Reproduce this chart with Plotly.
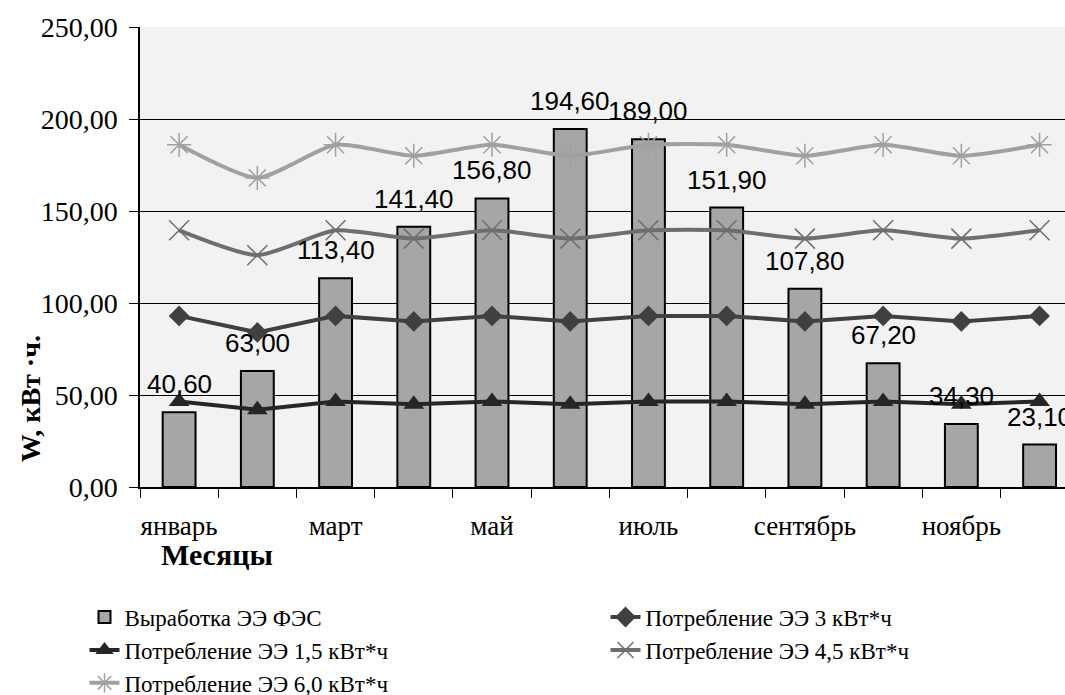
import plotly.graph_objects as go

months = ["январь", "февраль", "март", "апрель", "май", "июнь",
          "июль", "август", "сентябрь", "октябрь", "ноябрь", "декабрь"]
x_idx = list(range(len(months)))

# Выработка ЭЭ ФЭС, кВт*ч
generation = [40.60, 63.00, 113.40, 141.40, 156.80, 194.60,
              189.00, 151.90, 107.80, 67.20, 34.30, 23.10]
# Потребление при разной суточной нагрузке
cons_15 = [46.5, 42.0, 46.5, 45.0, 46.5, 45.0, 46.5, 46.5, 45.0, 46.5, 45.0, 46.5]
cons_30 = [93.0, 84.0, 93.0, 90.0, 93.0, 90.0, 93.0, 93.0, 90.0, 93.0, 90.0, 93.0]
cons_45 = [139.5, 126.0, 139.5, 135.0, 139.5, 135.0, 139.5, 139.5, 135.0, 139.5, 135.0, 139.5]
cons_60 = [186.0, 168.0, 186.0, 180.0, 186.0, 180.0, 186.0, 186.0, 180.0, 186.0, 180.0, 186.0]

label_months = [0, 2, 4, 6, 8, 10]

SERIF = "Liberation Serif, Times New Roman, serif"
SANS = "Liberation Sans, Arial, sans-serif"

fig = go.Figure()
fig.add_trace(go.Bar(
    x=x_idx, y=generation, name="Выработка ЭЭ ФЭС", width=0.42,
    marker=dict(color="#a6a6a6", line=dict(color="black", width=2)),
))
fig.add_trace(go.Scatter(
    x=x_idx, y=cons_30, name="Потребление ЭЭ 3 кВт*ч", mode="lines+markers",
    line=dict(color="#404040", width=4),
    marker=dict(symbol="diamond", size=16, color="#404040"),
))
fig.add_trace(go.Scatter(
    x=x_idx, y=cons_15, name="Потребление ЭЭ 1,5 кВт*ч", mode="lines+markers",
    line=dict(color="#262626", width=4),
    marker=dict(symbol="triangle-up", size=18, color="#262626"),
))
fig.add_trace(go.Scatter(
    x=x_idx, y=cons_45, name="Потребление ЭЭ 4,5 кВт*ч", mode="lines+markers",
    line=dict(color="#6e6e6e", width=4, shape="spline", smoothing=0.6),
    marker=dict(symbol="x-thin-open", size=20, line=dict(color="#8a8a8a", width=1.5)),
))
fig.add_trace(go.Scatter(
    x=x_idx, y=cons_60, name="Потребление ЭЭ 6,0 кВт*ч", mode="lines+markers",
    line=dict(color="#a0a0a0", width=4, shape="spline", smoothing=0.6),
    marker=dict(symbol="asterisk-open", size=20, line=dict(color="#b4b4b4", width=1.5)),
))

# подписи значений над столбцами
for i, v in enumerate(generation):
    fig.add_annotation(
        x=i, y=v, text=f"{v:.2f}".replace(".", ","), showarrow=False,
        yanchor="bottom", yshift=11, font=dict(family=SANS, size=26, color="black"),
    )

fig.add_annotation(text="<b>Месяцы</b>", xref="paper", yref="paper",
                   x=0.0832, y=-0.146, xanchor="center", yanchor="middle",
                   showarrow=False, font=dict(family=SERIF, size=30, color="black"))
fig.add_annotation(text="<b>W, кВт ·ч.</b>", xref="paper", yref="paper",
                   x=-0.119, y=0.193, xanchor="center", yanchor="middle", textangle=-90,
                   showarrow=False, font=dict(family=SERIF, size=28, color="black"))

fig.update_layout(
    width=1065, height=695,
    margin=dict(l=140, r=0, t=27, b=208, autoexpand=False),
    paper_bgcolor="white", plot_bgcolor="#f2f2f2",
    font=dict(family=SERIF, color="black"),
    separators=", ",
    showlegend=True,
    legend=dict(
        orientation="h", x=-0.060, xanchor="left", y=-0.236, yanchor="top",
        entrywidth=476, entrywidthmode="pixels", traceorder="normal",
        font=dict(family=SERIF, size=23, color="black"),
        bgcolor="rgba(0,0,0,0)",
    ),
    xaxis=dict(
        range=[-0.5, 11.325], tickmode="array",
        tickvals=label_months, ticktext=[months[i] for i in label_months],
        ticks="", ticklabelstandoff=14,
        minor=dict(tickmode="array", tickvals=[i - 0.5 for i in range(13)],
                   ticks="outside", ticklen=9, tickwidth=1, tickcolor="black"),
        showline=True, linecolor="black", linewidth=1.5, showgrid=False, zeroline=False,
        tickfont=dict(family=SERIF, size=27, color="black"),
    ),
    yaxis=dict(
        range=[0, 250], dtick=50, tickformat=".2f",
        ticks="outside", ticklen=9, tickcolor="black", ticklabelstandoff=6,
        showline=True, linecolor="black", linewidth=1.5,
        showgrid=True, gridcolor="black", gridwidth=1, zeroline=False,
        tickfont=dict(family=SERIF, size=28, color="black"),
    ),
)

# страница без полей, чтобы рисунок занимал окно целиком
fig.write_html("out.html", config={"displayModeBar": False},
               post_script="document.body.style.margin='0px';")
